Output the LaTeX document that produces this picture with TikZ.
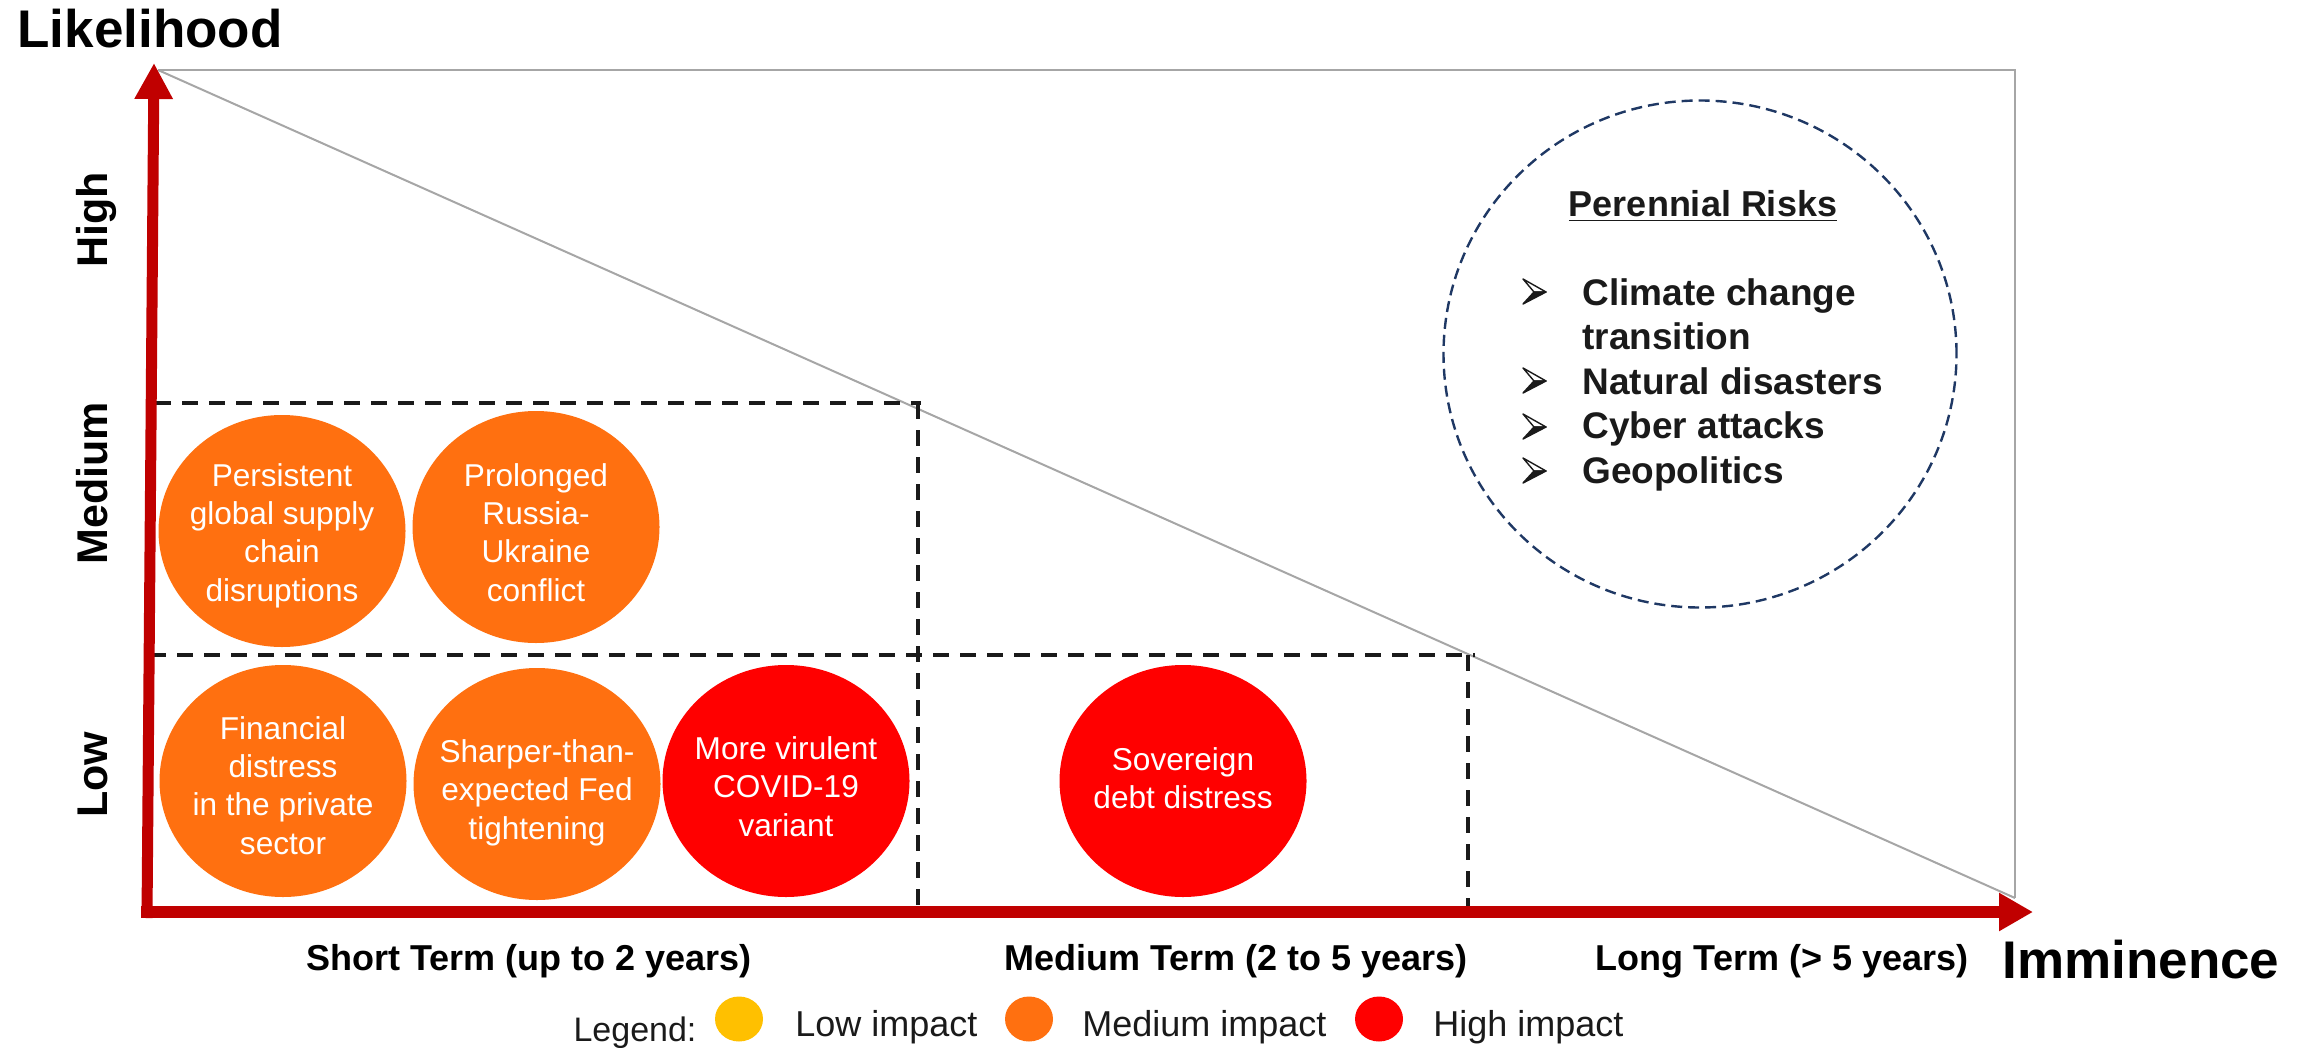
\documentclass[tikz,border=0pt]{standalone}
\usepackage{fontspec}
\setmainfont{Liberation Sans}
\usetikzlibrary{shapes.geometric,arrows.meta}
\definecolor{axisred}{HTML}{C00000}
\definecolor{riskorange}{HTML}{FF7010}
\definecolor{riskred}{HTML}{FF0000}
\definecolor{risklow}{HTML}{FFC000}
\definecolor{framegray}{HTML}{A6A6A6}
\definecolor{navyline}{HTML}{1F3864}
\definecolor{ink}{HTML}{1A1A1A}
\newcommand\fsz[2]{\fontsize{#1}{#2}\selectfont}
\newcommand\btext[1]{\begin{tabular}{@{}c@{}}#1\end{tabular}}
\begin{document}
\begin{tikzpicture}[x=0.5pt,y=-0.5pt,
  axisline/.style={draw=axisred},
  framegrey/.style={draw=framegray,line width=1pt},
  griddash/.style={draw=ink,line width=1.9pt,dash pattern=on 8pt off 5.5pt},
  bubble/.style={ellipse,minimum width=123.5pt,minimum height=116pt,inner sep=0pt},
  medbub/.style={bubble,fill=riskorange},
  highbub/.style={bubble,fill=riskred},
  bubtext/.style={inner sep=0pt,text=white,font=\fsz{15.8pt}{19.2pt}},
  ylab/.style={rotate=90,anchor=base,inner sep=0pt,font=\fsz{21.5pt}{25pt}\bfseries},
  xlab/.style={anchor=base,inner sep=0pt,font=\fsz{18pt}{21pt}\bfseries},
  axtitle/.style={anchor=base,inner sep=0pt,font=\fsz{26.5pt}{30pt}\bfseries},
  legdot/.style={ellipse,minimum width=24pt,minimum height=22.5pt,inner sep=0pt},
  legtext/.style={anchor=base west,inner sep=0pt,text=ink,font=\fsz{18pt}{21pt}},
  bulletup/.style={fill=white,draw=ink,line width=0.7pt,line join=round},
  bulletdown/.style={fill=ink,draw=ink,line width=0.7pt,line join=round},
]
\useasboundingbox (0,0) rectangle (2310,1048);

% frame and diagonal
\coordinate (tl) at (158,70);
\coordinate (tr) at (2015,70);
\coordinate (br) at (2015,898);
\draw[framegrey] (tl) -- (tr) -- (br);
\draw[framegrey] (tl) -- (br);

% dashed grid
\coordinate (m1) at (155,403);
\coordinate (m2) at (921,403);
\coordinate (l1) at (150,655);
\coordinate (l2) at (1475,655);
\coordinate (v1a) at (918,403);
\coordinate (v1b) at (918,913);
\coordinate (v2a) at (1468,655);
\coordinate (v2b) at (1468,918);
\draw[griddash] (m1) -- (m2);
\draw[griddash] (l1) -- (l2);
\draw[griddash] (v1a) -- (v1b);
\draw[griddash] (v2a) -- (v2b);

% axes
\coordinate (origin) at (147,918);
\coordinate (ytip) at (154,63);
\coordinate (xstart) at (141,912);
\coordinate (xtip) at (2033,912);
\draw[axisline,line width=5.5pt,-{Triangle[length=18pt,width=18pt]}] (origin) -- (ytip);
\draw[axisline,line width=6pt,-{Triangle[length=17pt,width=18pt]}] (xstart) -- (xtip);

% axis titles
\node[axtitle] (likelihood) at (150,48) {Likelihood};
\node[axtitle] (imminence) at (2141,978) {Imminence};

% y labels
\node[ylab] (yhigh) at (107,220) {High};
\node[ylab] (ymed) at (107,483) {Medium};
\node[ylab] (ylow) at (107,775) {Low};

% x labels
\node[xlab] (xshort) at (529,970) {Short Term (up to 2 years)};
\node[xlab] (xmed) at (1236,970) {Medium Term (2 to 5 years)};
\node[xlab] (xlong) at (1782,970) {Long Term (> 5 years)};

% risk bubbles
\node[medbub] (supply) at (282,531) {};
\node[bubtext] (supplytxt) at ([yshift=-2.5pt]supply.center) {\btext{Persistent\\global supply\\chain\\disruptions}};
\node[medbub] (russia) at (536,527) {};
\node[bubtext] (russiatxt) at ([yshift=-4.5pt]russia.center) {\btext{Prolonged\\Russia-\\Ukraine\\conflict}};
\node[medbub] (financial) at (283,781) {};
\node[bubtext] (financialtxt) at ([yshift=-4pt]financial.center) {\btext{Financial\\distress\\in the private\\sector}};
\node[medbub] (fed) at (537,784) {};
\node[bubtext] (fedtxt) at ([yshift=-4.5pt]fed.center) {\btext{Sharper-than-\\expected Fed\\tightening}};
\node[highbub] (covid) at (786,781) {};
\node[bubtext] (covidtxt) at ([yshift=-4.5pt]covid.center) {\btext{More virulent\\COVID-19\\variant}};
\node[highbub] (sovereign) at (1183,781) {};
\node[bubtext] (sovereigntxt) at ([yshift=-0.5pt]sovereign.center) {\btext{Sovereign\\debt distress}};

% perennial risks
\node[ellipse,draw=navyline,line width=1.2pt,dash pattern=on 5.5pt off 3pt,
      minimum width=256.5pt,minimum height=253.5pt] (perennial) at (1700,354) {};
\node[anchor=base,inner sep=0pt,text=ink,font=\fsz{18pt}{21pt}\bfseries] (pertitle) at (1703,217) {\underline{Perennial Risks}};
\node[anchor=base west,inner sep=0pt,text=ink,font=\fsz{18.5pt}{22.3pt}\bfseries] (perlist) at (1582,305)
 {\begin{tabular}[t]{@{}l@{}}
  Climate change\\
  transition\\
  Natural disasters\\
  Cyber attacks\\
  Geopolitics
 \end{tabular}};
% arrowhead bullets
\foreach \b in {305,394,440,484}{
  \filldraw[bulletup] (1523,\b-26) -- (1546,\b-13) -- (1534,\b-13) -- cycle;
  \filldraw[bulletdown] (1534,\b-13) -- (1546,\b-13) -- (1523,\b-1) -- cycle;
}

% legend
\node[anchor=base,inner sep=0pt,text=ink,font=\fsz{17pt}{20pt}] (legend) at (635,1041) {Legend:};
\node[legdot,fill=risklow] (lowdot) at (739,1019) {};
\node[legtext] (lowtxt) at (795,1036) {Low impact};
\node[legdot,fill=riskorange] (meddot) at (1029,1019) {};
\node[legtext] (medtxt) at (1082,1036) {Medium impact};
\node[legdot,fill=riskred] (highdot) at (1379,1019) {};
\node[legtext] (hightxt) at (1433,1036) {High impact};
\end{tikzpicture}
\end{document}
